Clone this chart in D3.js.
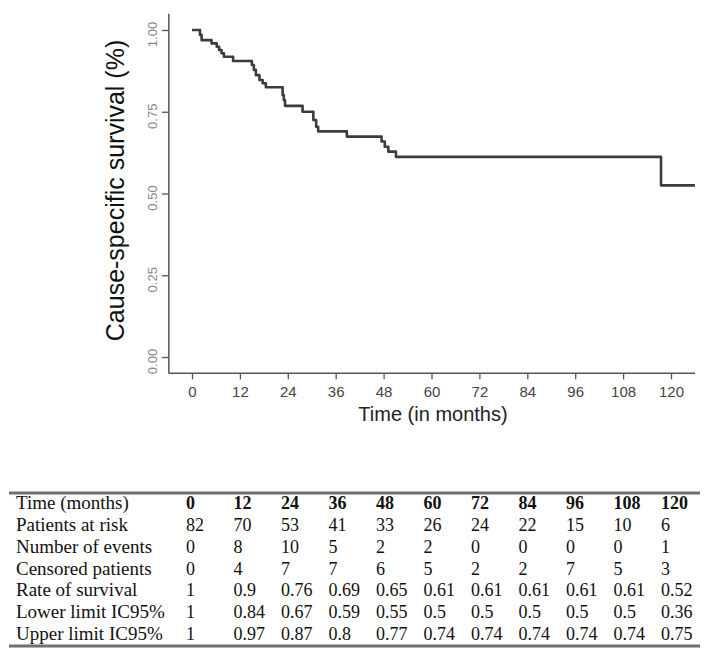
<!DOCTYPE html>
<html>
<head>
<meta charset="utf-8">
<script src="https://cdn.jsdelivr.net/npm/d3@7"></script>
<style>
  html, body { margin: 0; padding: 0; background: #fff; }
  svg { display: block; }
</style>
</head>
<body>
<svg id="chart" width="711" height="656"></svg>
<script>
// ---- Data ----
// Kaplan-Meier step points: [month, survival]
const kmTimes    = [0, 2.0, 2.4, 4.9, 6.2, 6.8, 7.4, 8.0, 10.3, 15.0, 15.5, 16.0, 16.9, 17.7, 18.5, 22.7, 23.0, 23.3, 27.7, 30.4, 31.1, 31.6, 38.8, 47.5, 48.3, 49.2, 51.1, 117.5, 126];
const kmSurvival = [1.0, 0.985, 0.969, 0.959, 0.949, 0.939, 0.929, 0.918, 0.905, 0.893, 0.878, 0.862, 0.847, 0.837, 0.825, 0.801, 0.786, 0.768, 0.750, 0.725, 0.704, 0.690, 0.674, 0.659, 0.643, 0.628, 0.612, 0.525, 0.525];

const xTicks = [0, 12, 24, 36, 48, 60, 72, 84, 96, 108, 120];
const yTicks = [0, 0.25, 0.5, 0.75, 1];

// Table
const rowLabels = ["Time (months)", "Patients at risk", "Number of events", "Censored patients", "Rate of survival", "Lower limit IC95%", "Upper limit IC95%"];
const tableTimes = ["0", "12", "24", "36", "48", "60", "72", "84", "96", "108", "120"];
const atRisk   = ["82", "70", "53", "41", "33", "26", "24", "22", "15", "10", "6"];
const events   = ["0", "8", "10", "5", "2", "2", "0", "0", "0", "0", "1"];
const censored = ["0", "4", "7", "7", "6", "5", "2", "2", "7", "5", "3"];
const rate     = ["1", "0.9", "0.76", "0.69", "0.65", "0.61", "0.61", "0.61", "0.61", "0.61", "0.52"];
const lower    = ["1", "0.84", "0.67", "0.59", "0.55", "0.5", "0.5", "0.5", "0.5", "0.5", "0.36"];
const upper    = ["1", "0.97", "0.87", "0.8", "0.77", "0.74", "0.74", "0.74", "0.74", "0.74", "0.75"];

// ---- Drawing ----
const svg = d3.select("#chart");

const x = d3.scaleLinear().domain([0, 120]).range([192, 671]);
const y = d3.scaleLinear().domain([0, 1]).range([357, 30]);
const xExtent = [-5.8, 126];
const yExtent = [-0.05, 1.05];

const axisColor = "#555";
const narrow = "'Liberation Sans Narrow', 'Arial Narrow', 'Liberation Sans', Arial, sans-serif";

// y axis
const gy = svg.append("g").attr("transform", `translate(${x(xExtent[0])},0)`)
  .call(d3.axisLeft(y).tickValues(yTicks).tickFormat(d3.format(".2f")).tickSize(7).tickSizeOuter(0));
gy.select(".domain").remove();
gy.selectAll(".tick line").attr("stroke", axisColor).attr("stroke-width", 1.3);
gy.selectAll(".tick text")
  .attr("transform", "rotate(-90)")
  .attr("x", -4).attr("y", -12)
  .attr("dy", null)
  .attr("text-anchor", "middle")
  .attr("fill", "#888")
  .style("font-family", narrow)
  .style("font-size", "13px");
svg.append("line")
  .attr("x1", x(xExtent[0])).attr("x2", x(xExtent[0]))
  .attr("y1", y(yExtent[1]))
  .attr("y2", y(yExtent[0]))
  .attr("stroke", axisColor).attr("stroke-width", 1.5);

// x axis
const gx = svg.append("g").attr("transform", `translate(0,${y(yExtent[0])})`)
  .call(d3.axisBottom(x).tickValues(xTicks).tickSize(6).tickSizeOuter(0));
gx.select(".domain").remove();
gx.selectAll(".tick line").attr("stroke", axisColor).attr("stroke-width", 1.3);
gx.selectAll(".tick text")
  .attr("y", 13)
  .attr("fill", "#444")
  .style("font-family", narrow)
  .style("font-size", "15px");
svg.append("line")
  .attr("x1", x(xExtent[0])).attr("x2", x(xExtent[1]))
  .attr("y1", y(yExtent[0])).attr("y2", y(yExtent[0]))
  .attr("stroke", axisColor).attr("stroke-width", 1.5);

// axis titles
svg.append("text")
  .attr("transform", `translate(124,${(y(0) + y(1)) / 2 - 3}) rotate(-90)`)
  .attr("text-anchor", "middle")
  .attr("fill", "#111")
  .style("font-family", "'Liberation Sans', Arial, sans-serif")
  .style("font-size", "25px")
  .text("Cause-specific survival (%)");

svg.append("text")
  .attr("x", 433).attr("y", 421)
  .attr("text-anchor", "middle")
  .attr("fill", "#222")
  .style("font-family", "'Liberation Sans', Arial, sans-serif")
  .style("font-size", "20px")
  .text("Time (in months)");

// KM curve
const kmData = kmTimes.map((t, i) => ({ t, s: kmSurvival[i] }));
svg.append("path")
  .datum(kmData)
  .attr("fill", "none")
  .attr("stroke", "#3c3c3c")
  .attr("stroke-width", 2.6)
  .attr("stroke-linejoin", "round")
  .attr("d", d3.line().x(d => x(d.t)).y(d => y(d.s)).curve(d3.curveStepAfter));

// ---- Table ----
const colX = d3.scaleLinear().domain([0, 120]).range([186, 661]);
const rowY = d3.scaleLinear().domain([0, 6]).range([509, 640]);
const rows = [tableTimes, atRisk, events, censored, rate, lower, upper];
const tableFont = "'Liberation Serif', 'Times New Roman', serif";

const tbl = svg.append("g");
tbl.append("line").attr("x1", 9).attr("x2", 700).attr("y1", 493).attr("y2", 493)
  .attr("stroke", "#6f6f6f").attr("stroke-width", 3);
tbl.append("line").attr("x1", 9).attr("x2", 700).attr("y1", 646).attr("y2", 646)
  .attr("stroke", "#6f6f6f").attr("stroke-width", 3);

rows.forEach((vals, r) => {
  tbl.append("text")
    .attr("x", 16).attr("y", rowY(r))
    .attr("fill", "#111")
    .style("font-family", tableFont)
    .style("font-size", "19px")
    .text(rowLabels[r]);
  tbl.selectAll(null).data(vals).enter().append("text")
    .attr("x", (d, i) => colX(xTicks[i]))
    .attr("y", rowY(r))
    .attr("fill", "#111")
    .style("font-family", tableFont)
    .style("font-size", "18px")
    .style("font-weight", r === 0 ? "bold" : "normal")
    .text(d => d);
});
</script>
</body>
</html>
